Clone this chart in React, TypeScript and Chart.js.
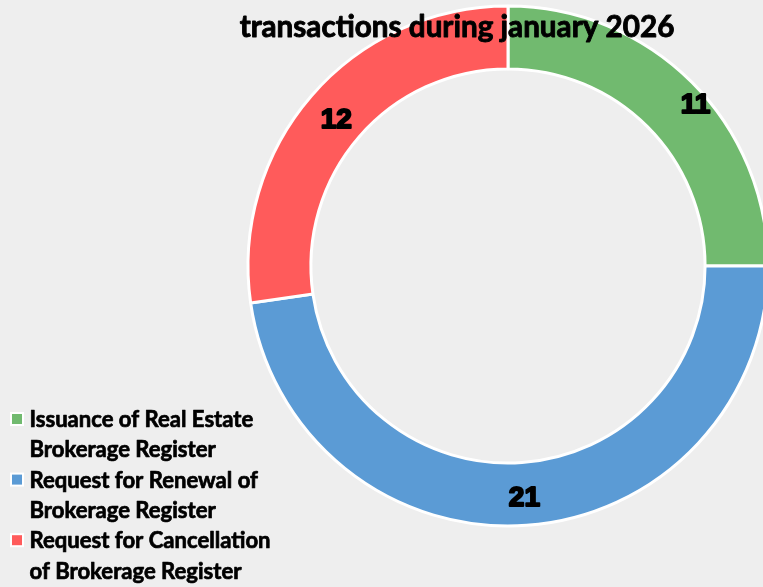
import React, { useEffect, useRef } from "react";
import { Chart, registerables } from "chart.js";

Chart.register(...registerables);

// ---- data ----
const categories: string[] = [
  "Issuance of Real Estate Brokerage Register",
  "Request for Renewal of Brokerage Register",
  "Request for Cancellation of Brokerage Register",
];
const values: number[] = [11, 21, 12];
const titleText = "transactions during january 2026";

// ---- style ----
const colors = ["#71BA6F", "#5B9BD5", "#FF5B5B"];
const BG = "#EEEEEE";
const W = 763;
const H = 587;
const labelNudge = [
  { dx: 25, dy: -1 },
  { dx: 0, dy: 1 },
  { dx: 2, dy: 2 },
];

function fitFont(ctx: CanvasRenderingContext2D, text: string, family: string, target: number) {
  ctx.font = `bold 20px ${family}`;
  const w = ctx.measureText(text).width;
  return (20 * target) / w;
}

function wrap(ctx: CanvasRenderingContext2D, text: string, maxW: number) {
  const words = text.split(" ");
  const lines: string[] = [];
  let cur = "";
  for (const w of words) {
    const t = cur ? cur + " " + w : w;
    if (ctx.measureText(t).width > maxW && cur) {
      lines.push(cur);
      cur = w;
    } else cur = t;
  }
  if (cur) lines.push(cur);
  return lines;
}

function boldText(ctx: CanvasRenderingContext2D, t: string, x: number, y: number, sw: number) {
  ctx.strokeText(t, x, y);
  ctx.fillText(t, x, y);
}

const bgPlugin = {
  id: "bg",
  beforeDraw(chart: any) {
    const ctx = chart.ctx;
    ctx.save();
    ctx.fillStyle = BG;
    ctx.fillRect(0, 0, chart.width, chart.height);
    ctx.restore();
  },
};

const valueLabels = {
  id: "valueLabels",
  afterDatasetsDraw(chart: any) {
    const ctx = chart.ctx;
    const meta = chart.getDatasetMeta(0);
    ctx.save();
    ctx.font = "bold 28px 'Liberation Sans', Arial, sans-serif";
    ctx.textAlign = "center";
    ctx.textBaseline = "alphabetic";
    ctx.fillStyle = "#000";
    ctx.strokeStyle = "#000";
    ctx.lineWidth = 2;
    ctx.lineJoin = "round";
    meta.data.forEach((arc: any, i: number) => {
      const p = arc.getProps(["x", "y", "startAngle", "endAngle", "innerRadius", "outerRadius"], true);
      const mid = (p.startAngle + p.endAngle) / 2;
      const r = p.innerRadius + (p.outerRadius - p.innerRadius) * 0.52;
      const n = labelNudge[i] || { dx: 0, dy: 0 };
      const x = p.x + Math.cos(mid) * r + n.dx;
      const y = p.y + Math.sin(mid) * r + n.dy + 10;
      const txt = String(chart.data.datasets[0].data[i]);
      ctx.strokeText(txt, x, y);
      ctx.fillText(txt, x, y);
    });
    ctx.restore();
  },
};

const overlay = {
  id: "overlay",
  afterDraw(chart: any) {
    const ctx = chart.ctx;
    ctx.save();
    ctx.fillStyle = "#000";
    ctx.strokeStyle = "#000";
    ctx.lineJoin = "round";
    // title
    const fam = "Lato, 'Open Sans', sans-serif";
    const ts = fitFont(ctx, titleText, fam, 435);
    ctx.font = `bold ${ts}px ${fam}`;
    ctx.textAlign = "center";
    ctx.textBaseline = "alphabetic";
    ctx.lineWidth = 0.9;
    boldText(ctx, titleText, 457, 37, 0.9);

    // legend
    const ls = fitFont(ctx, "Issuance of Real Estate", fam, 224);
    ctx.font = `bold ${ls}px ${fam}`;
    ctx.textAlign = "left";
    ctx.lineWidth = 0.7;
    let y = 427;
    const lh = 30.3;
    categories.forEach((c, i) => {
      ctx.fillStyle = "#FFFFFF";
      ctx.fillRect(10, y - 15, 14, 14);
      ctx.fillStyle = colors[i];
      ctx.fillRect(12, y - 13, 10, 10);
      ctx.fillStyle = "#000";
      const lines = wrap(ctx, c, 250);
      lines.forEach((ln) => {
        boldText(ctx, ln, 29.5, y, 0.7);
        y += lh;
      });
    });
    ctx.restore();
  },
};

export default function App() {
  const ref = useRef<HTMLCanvasElement>(null);
  useEffect(() => {
    if (!ref.current) return;
    const chart = new Chart(ref.current, {
      type: "doughnut",
      data: {
        labels: categories,
        datasets: [
          {
            data: values,
            backgroundColor: colors,
            borderColor: "#FFFFFF",
            borderWidth: 3,
            clip: false as any,
          },
        ],
      },
      options: {
        responsive: false,
        animation: false,
        devicePixelRatio: 1,
        radius: 260,
        cutout: "75.8%",
        layout: { padding: { left: 253, right: 0, top: 0, bottom: 55 } },
        plugins: {
          legend: { display: false },
          title: { display: false },
          tooltip: { enabled: false },
        },
      } as any,
      plugins: [bgPlugin, valueLabels, overlay],
    });
    return () => chart.destroy();
  }, []);
  return (
    <div style={{ position: "absolute", left: 0, top: 0, width: W, height: H, background: BG, overflow: "hidden" }}>
      <canvas ref={ref} width={W} height={H} style={{ display: "block", width: W, height: H }} />
    </div>
  );
}
